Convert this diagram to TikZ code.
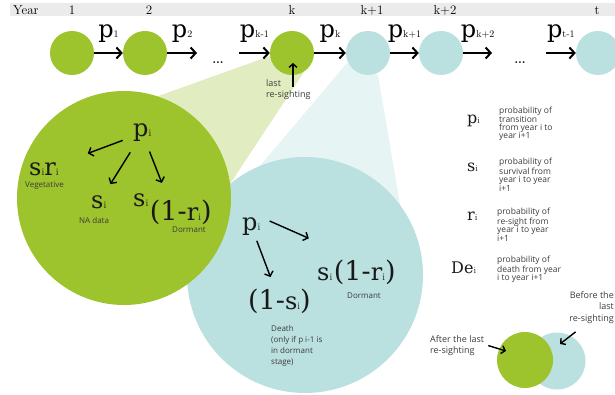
\documentclass[tikz,border=0pt]{standalone}
\usepackage{fontspec}
\setsansfont{Open Sans}
\newfontfamily\slab{DejaVu Serif}
\usepackage{xcolor}
\usetikzlibrary{arrows.meta,positioning,calc}

\definecolor{leafgreen}{HTML}{9DC32D}
\definecolor{paleteal}{HTML}{BAE0E0}
\definecolor{bargray}{HTML}{EBEBEB}
\definecolor{notegray}{HTML}{3C3C3C}

\newcommand{\bigfnt}{\slab\fontsize{24}{24}\selectfont}
\newcommand{\parfnt}{\slab\fontsize{27}{27}\selectfont}
\newcommand{\legfnt}{\slab\fontsize{16}{16}\selectfont}
\newcommand{\subfnt}{\fontsize{10}{10}\selectfont}
\newcommand{\prob}[2]{{\bigfnt #1}{\subfnt #2}}
\newcommand{\legprob}[2]{{\legfnt #1}{\fontsize{9}{9}\selectfont #2}}

\begin{document}
\begin{tikzpicture}[
    x=1pt, y=-1pt,
    yearcirc/.style={circle, minimum size=44pt, inner sep=0pt, fill=leafgreen},
    latecirc/.style={yearcirc, fill=paleteal},
    trans/.style={-{Straight Barb[length=5pt,width=11pt]}, line width=2pt},
    branch/.style={-{Straight Barb[length=4pt,width=9pt]}, line width=1.4pt},
    pointer/.style={-{Straight Barb[length=3.5pt,width=8pt]}, line width=1.4pt},
    plab/.style={above=10pt, inner sep=0pt},
    sym/.style={anchor=base west, inner sep=0pt, text=black!90},
    note/.style={font=\sffamily\fontsize{9}{11.7}\selectfont, text=notegray, align=left, inner sep=0pt},
    tag/.style={note, font=\sffamily\fontsize{8}{11}\selectfont, anchor=base west},
    legnote/.style={note, font=\sffamily\fontsize{8.5}{8.4}\selectfont, anchor=north west},
    yearlab/.style={anchor=base, inner sep=0pt, font=\fontsize{13}{13}\selectfont}
]
\useasboundingbox (0,0) rectangle (615,395);

% year bar
\fill[bargray] (10,3) rectangle (615,16.5);
\node[yearlab, anchor=base west] (yearhd) at (13,15) {Year};
\node[yearlab] (yl1) at (72,15) {1};
\node[yearlab] (yl2) at (149,15) {2};
\node[yearlab] (ylk) at (292,15) {k};
\node[yearlab] (ylk1) at (372,15) {k+1};
\node[yearlab] (ylk2) at (445,15) {k+2};
\node[yearlab] (ylt) at (597,15) {t};

% cones and the two zoomed circles
\fill[paleteal, fill opacity=0.35] (347,63) -- (378,75) -- (401,210) -- (305,275) -- (238,192) -- cycle;
\node[circle, fill=paleteal, minimum size=236pt, inner sep=0pt] (tealzoom) at (305,275) {};
\fill[leafgreen, fill opacity=0.3] (270,56) -- (304,72) -- (226,190) -- (124,198) -- (150,99) -- cycle;
\node[circle, fill=leafgreen, minimum size=214pt, inner sep=0pt] (greenzoom) at (124,198) {};

% year chain
\node[yearcirc] (yr1) at (72,53) {};
\node[yearcirc] (yr2) at (145,53) {};
\node[yearcirc] (yrk) at (292,53) {};
\node[latecirc] (yrk1) at (368,53) {};
\node[latecirc] (yrk2) at (441,53) {};
\node[latecirc] (yrt) at (598,53) {};
\coordinate (gap1a) at (197,53);
\coordinate (gap1b) at (239,53);
\coordinate (gap2a) at (492,53);
\coordinate (gap2b) at (546,53);
\node[inner sep=0pt, anchor=base] (dots1) at (218,64) {\fontsize{22}{22}\selectfont\ldots};
\node[inner sep=0pt, anchor=base] (dots2) at (520,64) {\fontsize{22}{22}\selectfont\ldots};

\draw[trans] (yr1) -- node[plab]{\prob{p}{1}} (yr2);
\draw[trans] (yr2) -- node[plab]{\prob{p}{2}} (gap1a);
\draw[trans] (gap1b) -- node[plab]{\prob{p}{k-1}} (yrk);
\draw[trans] (yrk) -- node[plab]{\prob{p}{k}} (yrk1);
\draw[trans] (yrk1) -- node[plab]{\prob{p}{k+1}} (yrk2);
\draw[trans] (yrk2) -- node[plab]{\prob{p}{k+2}} (gap2a);
\draw[trans] (gap2b) -- node[plab]{\prob{p}{t-1}} (yrt);

\node[note, anchor=north west] (lastnote) at (266,79) {last\\re-sighting};
\coordinate (lasttip) at (293,63);
\draw[pointer] ([shift={(27,8)}]lastnote.north west) -- (lasttip);

% inside the green circle
\node[sym] (gp) at (133,137) {\prob{p}{i}};
\node[sym] (gveg) at (29,176) {\prob{s}{i}\prob{r}{i}};
\node[tag] (gvegnote) at (25,188) {Vegetative};
\node[sym] (gna) at (91,209) {\prob{s}{i}};
\node[tag] (gnanote) at (79,224) {NA data};
\node[sym] (gdorm) at (133,207) {\prob{s}{i}\,\raisebox{-14pt}{{\parfnt(1-}\prob{r}{i}{\parfnt)}}};
\node[tag] (gdormnote) at (172,233) {Dormant};
\draw[branch, shorten <=11pt, shorten >=31pt] (gp) -- (gveg);
\draw[branch, shorten <=12pt, shorten >=14pt] (gp) -- (gna);
\draw[branch, shorten <=10pt, shorten >=12pt] (gp) -- (gdorm);

% inside the teal circle
\node[sym] (tp) at (242,230) {\prob{p}{i}};
\node[sym] (tdorm) at (317,280) {\prob{s}{i}\,{\parfnt(1-}\prob{r}{i}{\parfnt)}};
\node[tag] (tdormnote) at (347,298) {Dormant};
\node[sym] (tdeath) at (248,309) {{\parfnt(1-}\prob{s}{i}{\parfnt)}};
\node[tag, anchor=north west] (tdeathnote) at (271,325) {Death\\(only if p i-1 is\\in dormant\\stage)};
\draw[branch, shorten <=10pt, shorten >=52pt] (tp.north east) -- (tdorm.north);
\draw[branch, shorten <=6pt, shorten >=12pt] (tp) -- (tdeath);

% legend
\node[sym] (lgp) at (467,124) {\legprob{p}{i}};
\node[legnote] (lgptext) at (499,107) {probability of\\transition\\from year i to\\year i+1};
\node[sym] (lgs) at (467,172) {\legprob{s}{i}};
\node[legnote] (lgstext) at (499,158) {probability of\\survival from\\year i to year\\i+1};
\node[sym] (lgr) at (467,221) {\legprob{r}{i}};
\node[legnote] (lgrtext) at (497,208) {probability of\\re-sight from\\year i to year\\i+1};
\node[sym] (lgde) at (451,273) {\legprob{De}{i}};
\node[legnote] (lgdetext) at (497,256) {probability of\\death from year\\i to year i+1};

% before / after key
\node[latecirc, minimum size=57pt] (before) at (557,361) {};
\node[yearcirc, minimum size=56pt] (after) at (525,360) {};
\node[note, anchor=north west] (afternote) at (430,335) {After the last\\re-sighting};
\node[note, anchor=north east, align=right] (beforenote) at (614,291) {Before the\\last\\re-sighting};
\coordinate (aftertip) at (506,351);
\coordinate (beforetip) at (560,344);
\draw[pointer] ([xshift=4pt]afternote.east) -- (aftertip);
\draw[pointer] ([shift={(-16,8)}]beforenote.south) -- (beforetip);
\end{tikzpicture}
\end{document}
